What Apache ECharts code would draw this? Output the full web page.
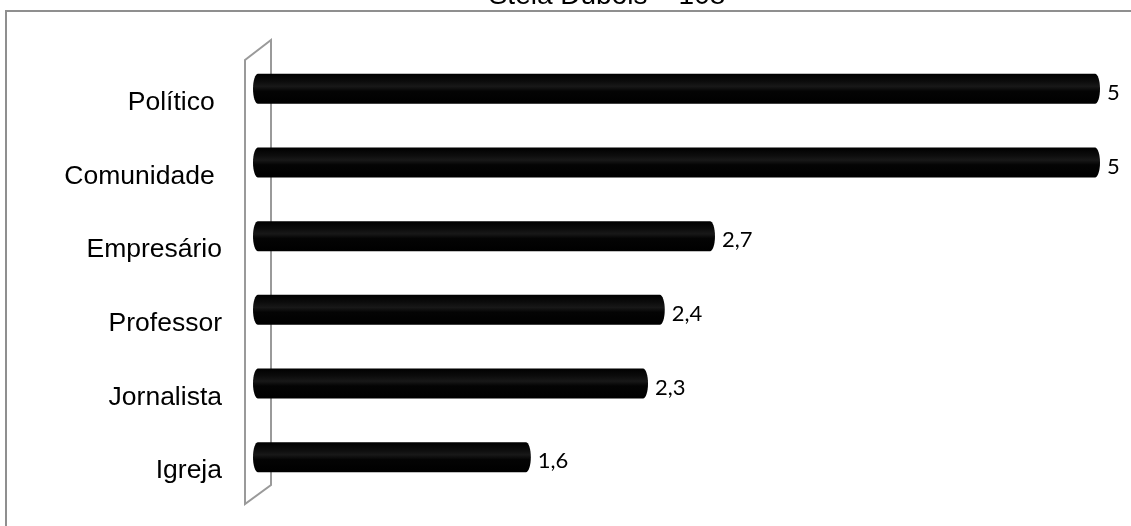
<!DOCTYPE html>
<html>
<head>
<meta charset="utf-8">
<script src="https://cdn.jsdelivr.net/npm/echarts@6/dist/echarts.min.js"></script>
<style>
  html, body { margin: 0; padding: 0; background: #fff; overflow: hidden; }
  #chart { width: 1131px; height: 526px; }
</style>
</head>
<body>
<div id="chart"></div>
<script>
// Chart data
const titleText = 'Stela Dubois – 108';
const categories = ['Político ', 'Comunidade ', 'Empresário', 'Professor', 'Jornalista', 'Igreja'];
const values = [5, 5, 2.7, 2.4, 2.3, 1.6];

const chart = echarts.init(document.getElementById('chart'), null, { renderer: 'canvas' });

const BAR_H = 30;     // cylinder thickness
const CAP_RX = 5;     // horizontal radius of the elliptical end caps
const LIFT = 14;      // perspective lift of the bars above the category line

// Points along a half ellipse (side = +1 right, -1 left)
function halfEllipse(cx, cy, rx, ry, side) {
  const pts = [];
  const n = 16;
  for (let i = 0; i <= n; i++) {
    const t = -Math.PI / 2 + Math.PI * i / n;
    pts.push([cx + side * rx * Math.cos(t), cy + ry * Math.sin(t)]);
  }
  return side > 0 ? pts : pts.reverse();
}

function renderCylinder(params, api) {
  const cat = api.value(1);
  const v = api.value(0);
  const p0 = api.coord([0, cat]);
  const p1 = api.coord([v, cat]);
  const cy = p0[1] - LIFT;
  const ry = BAR_H / 2;
  const right = halfEllipse(p1[0], cy, CAP_RX, ry, 1);
  const left = halfEllipse(p0[0], cy, CAP_RX, ry, -1);
  const points = right.concat(left);
  return {
    type: 'group',
    children: [
      {
        type: 'polygon',
        shape: { points: points },
        style: {
          fill: {
            type: 'linear', x: 0, y: 0, x2: 0, y2: 1,
            colorStops: [
              { offset: 0, color: '#000' },
              { offset: 0.25, color: '#0c0c0c' },
              { offset: 0.42, color: '#181818' },
              { offset: 0.58, color: '#040404' },
              { offset: 1, color: '#000' }
            ]
          },
          stroke: null
        }
      },
      {
        type: 'text',
        x: p1[0] + CAP_RX + 7,
        y: cy + 4,
        style: {
          text: String(v).replace('.', ','),
          fontSize: 22,
          fontFamily: 'Lato',
          fill: '#000',
          align: 'left',
          verticalAlign: 'middle'
        }
      }
    ]
  };
}

const option = {
  animation: false,
  backgroundColor: '#fff',
  grid: { left: 258, top: 66, width: 837, height: 442 },
  xAxis: {
    type: 'value', min: 0, max: 5,
    show: false
  },
  yAxis: {
    type: 'category',
    data: categories,
    inverse: true,
    axisLine: { show: false },
    axisTick: { show: false },
    splitLine: { show: false },
    axisLabel: {
      margin: 36,
      fontSize: 26.5,
      fontFamily: 'Liberation Sans',
      color: '#000'
    }
  },
  graphic: [
    // outer frame: left and top edges
    {
      type: 'polyline', z: 0,
      shape: { points: [[6, 526], [6, 11], [1140, 11]] },
      style: { fill: null, stroke: '#8f8f8f', lineWidth: 2 }
    },
    // side wall
    {
      type: 'polygon', z: 0,
      shape: { points: [[245, 60], [271, 40], [271, 485], [245, 504]] },
      style: { fill: null, stroke: '#9a9a9a', lineWidth: 2 }
    },
    // title
    {
      type: 'text', z: 1,
      x: 607, y: 10,
      style: {
        text: titleText,
        fontSize: 28,
        fontFamily: 'Liberation Sans',
        fill: '#000',
        align: 'center',
        verticalAlign: 'bottom'
      }
    }
  ],
  series: [{
    type: 'custom',
    z: 5,
    renderItem: renderCylinder,
    encode: { x: 0, y: 1 },
    data: values.map((v, i) => [v, i])
  }]
};

chart.setOption(option);
</script>
</body>
</html>
